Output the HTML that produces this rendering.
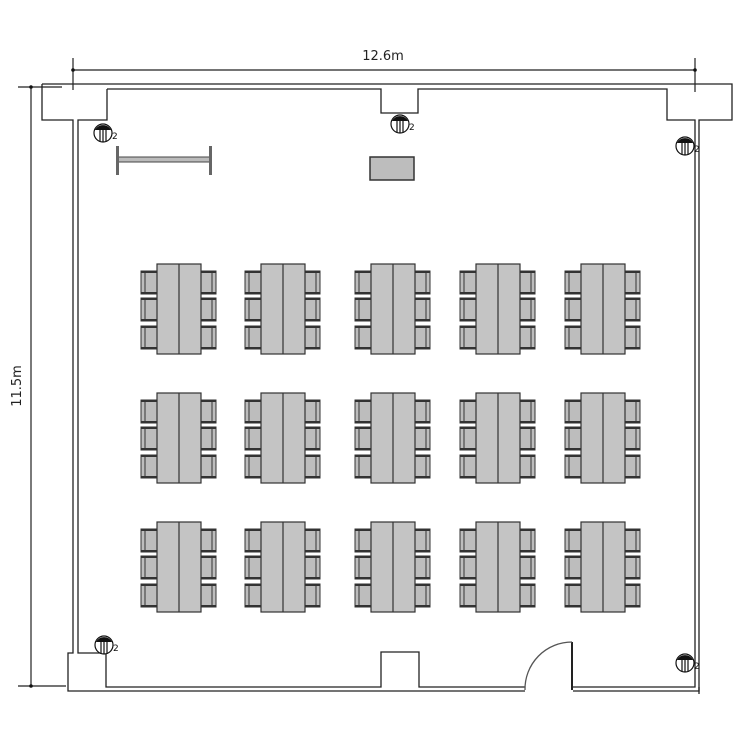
<!DOCTYPE html>
<html><head><meta charset="utf-8"><style>html,body{margin:0;padding:0;background:#fff}svg{display:block}</style></head>
<body>
<svg width="750" height="750" viewBox="0 0 750 750" xmlns="http://www.w3.org/2000/svg" font-family="'DejaVu Sans','Liberation Sans',sans-serif">
<defs>
<g id="col">
<circle cx="0" cy="0" r="9" fill="#fff" stroke="#111" stroke-width="1.2"/>
<path d="M-8,-3 A9,9 0 0 1 8,-3 Z" fill="#111"/>
<line x1="-3" y1="-4" x2="-3" y2="8" stroke="#111" stroke-width="1.2"/>
<line x1="0" y1="-4" x2="0" y2="9" stroke="#111" stroke-width="1.2"/>
<line x1="3" y1="-4" x2="3" y2="8" stroke="#111" stroke-width="1.2"/>
<text x="9" y="6" font-size="9" fill="#111">2</text>
</g>
<g id="chL">
<rect x="0" y="0" width="16" height="23" fill="#bdbdbd" stroke="#333" stroke-width="1"/>
<rect x="0" y="0" width="16" height="2" fill="#333"/>
<rect x="0" y="21" width="16" height="2" fill="#333"/>
<line x1="4" y1="2" x2="4" y2="21" stroke="#333" stroke-width="1"/>
</g>
<g id="chR">
<rect x="0" y="0" width="16" height="23" fill="#bdbdbd" stroke="#333" stroke-width="1"/>
<rect x="0" y="0" width="16" height="2" fill="#333"/>
<rect x="0" y="21" width="16" height="2" fill="#333"/>
<line x1="12" y1="2" x2="12" y2="21" stroke="#333" stroke-width="1"/>
</g>
<g id="grp">
<use href="#chL" x="141" y="7"/><use href="#chL" x="141" y="34"/><use href="#chL" x="141" y="62"/>
<use href="#chR" x="200" y="7"/><use href="#chR" x="200" y="34"/><use href="#chR" x="200" y="62"/>
<rect x="157" y="0" width="44" height="90" fill="#c4c4c4" stroke="#333" stroke-width="1.2"/>
<line x1="179" y1="0" x2="179" y2="90" stroke="#333" stroke-width="1.2"/>
</g>
</defs>

<!-- dimension lines -->
<g stroke="#222" stroke-width="1.2" fill="none">
<line x1="73" y1="70" x2="695" y2="70"/>
<line x1="73" y1="58" x2="73" y2="90"/>
<line x1="695" y1="58" x2="695" y2="92"/>
<line x1="31" y1="87" x2="31" y2="686"/>
<line x1="18" y1="87" x2="62" y2="87"/>
<line x1="18" y1="686" x2="66" y2="686"/>
</g>
<circle cx="73" cy="70" r="1.8" fill="#111"/><circle cx="695" cy="70" r="1.8" fill="#111"/>
<circle cx="31" cy="87" r="1.8" fill="#111"/><circle cx="31" cy="686" r="1.8" fill="#111"/>
<text x="383" y="60" font-size="13" text-anchor="middle" fill="#222">12.6m</text>
<text transform="translate(21,386) rotate(-90)" font-size="13" text-anchor="middle" fill="#222">11.5m</text>

<!-- walls -->
<g stroke="#222" stroke-width="1.3" fill="none">
<!-- top wall -->
<path d="M42,84 H732 V120 H699 V694"/>
<path d="M42,84 V120 H73 V653 H68 V691 H525"/>
<path d="M107,89 V120 H78 V653 H106 V687 H381 V652 H419 V687 H525"/>
<path d="M107,89 H381 V113 H418 V89 H667 V120 H695 V687 H573"/>
<path d="M573,691 H699 V687"/>
<line x1="572" y1="642" x2="572" y2="690" stroke-width="2"/>
<path d="M525,690 A47,47 0 0 1 572,642" stroke="#555"/>
</g>

<!-- columns -->
<use href="#col" x="103" y="133"/>
<use href="#col" x="400" y="124"/>
<use href="#col" x="685" y="146"/>
<use href="#col" x="104" y="645"/>
<use href="#col" x="685" y="663"/>

<!-- whiteboard -->
<rect x="118" y="157" width="92" height="5" fill="#bbb" stroke="#444" stroke-width="1"/>
<rect x="116" y="146" width="3" height="29" fill="#666"/>
<rect x="209" y="146" width="3" height="29" fill="#666"/>
<!-- podium -->
<rect x="370" y="157" width="44" height="23" fill="#bdbdbd" stroke="#333" stroke-width="1.5"/>

<!-- tables -->
<g>
<use href="#grp" x="0" y="264"/><use href="#grp" x="104" y="264"/><use href="#grp" x="214" y="264"/><use href="#grp" x="319" y="264"/><use href="#grp" x="424" y="264"/>
<use href="#grp" x="0" y="393"/><use href="#grp" x="104" y="393"/><use href="#grp" x="214" y="393"/><use href="#grp" x="319" y="393"/><use href="#grp" x="424" y="393"/>
<use href="#grp" x="0" y="522"/><use href="#grp" x="104" y="522"/><use href="#grp" x="214" y="522"/><use href="#grp" x="319" y="522"/><use href="#grp" x="424" y="522"/>
</g>
</svg>
</body></html>
